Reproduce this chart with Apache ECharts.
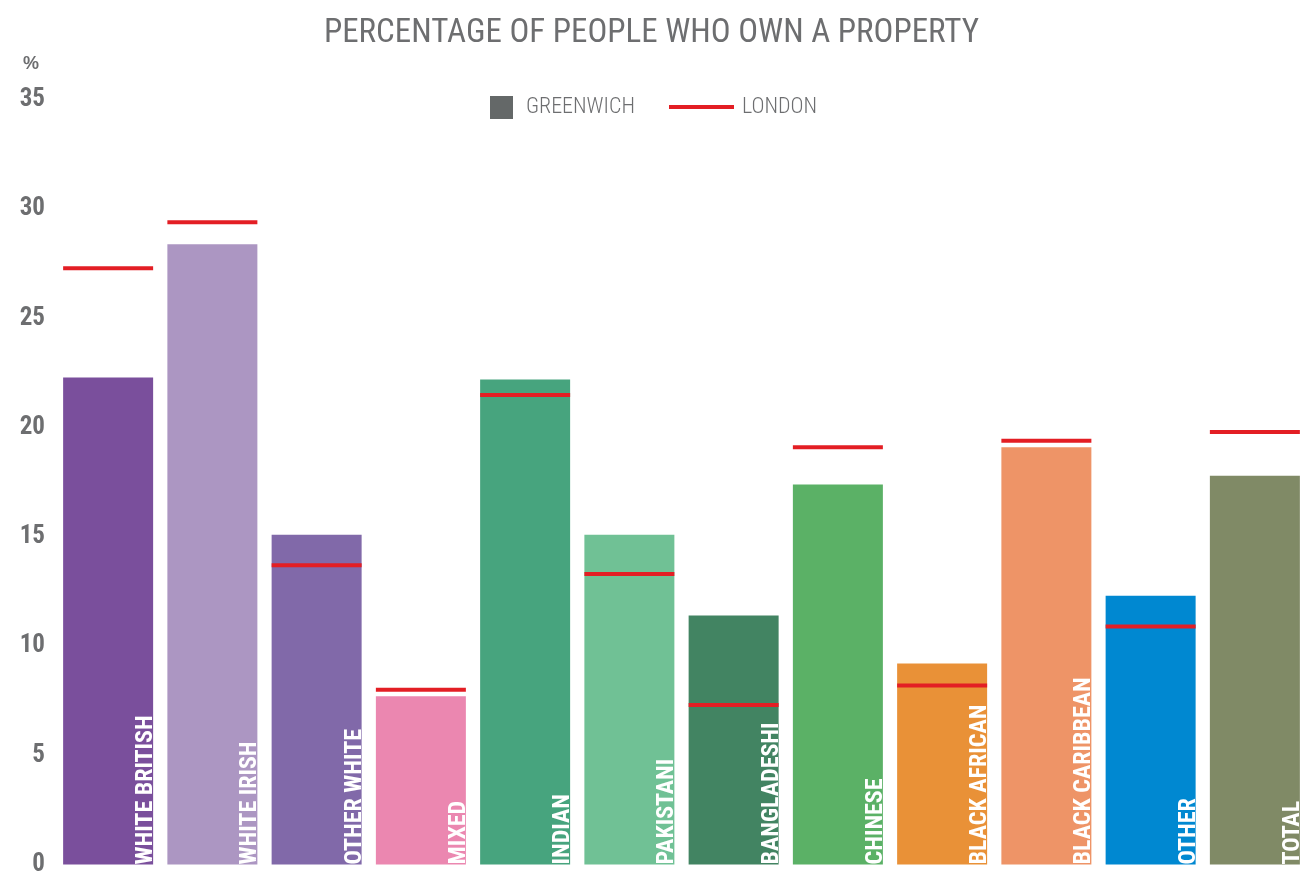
<!DOCTYPE html>
<html>
<head>
<meta charset="utf-8">
<style>
  html, body { margin: 0; padding: 0; background: #fff; }
  #chart { width: 1303px; height: 871px; }
</style>
<script src="https://cdn.jsdelivr.net/npm/echarts@6/dist/echarts.min.js"></script>
</head>
<body>
<div id="chart"></div>
<script>
  // categories and values
  var categories = ['WHITE BRITISH', 'WHITE IRISH', 'OTHER WHITE', 'MIXED', 'INDIAN', 'PAKISTANI',
    'BANGLADESHI', 'CHINESE', 'BLACK AFRICAN', 'BLACK CARIBBEAN', 'OTHER', 'TOTAL'];
  var greenwich = [22.3, 28.4, 15.1, 7.7, 22.2, 15.1, 11.4, 17.4, 9.2, 19.1, 12.3, 17.8];
  var london = [27.3, 29.4, 13.7, 8.0, 21.5, 13.3, 7.3, 19.1, 8.2, 19.4, 10.9, 19.8];
  var barColors = ['#7a4f9c', '#ac96c2', '#8169a9', '#eb87b0', '#47a47e', '#70c195',
    '#428462', '#5bb166', '#e99137', '#ee9467', '#0088d1', '#808a66'];

  var chart = echarts.init(document.getElementById('chart'));
  var condensed = '"Roboto Condensed", Roboto, sans-serif';
  var grey = '#6d6e70';

  var barData = greenwich.map(function (v, i) {
    return { value: v, itemStyle: { color: barColors[i] } };
  });

  var option = {
    animation: false,
    title: {
      text: 'PERCENTAGE OF PEOPLE WHO OWN A PROPERTY',
      left: 'center',
      top: 12,
      textStyle: {
        fontFamily: condensed,
        fontSize: 33,
        fontWeight: 'normal',
        color: grey
      }
    },
    legend: [{
      data: ['GREENWICH'],
      left: 490,
      top: 96,
      padding: 0,
      itemWidth: 23,
      itemHeight: 23,
      icon: 'rect',
      textStyle: {
        fontFamily: condensed,
        fontSize: 22,
        fontWeight: 300,
        color: grey,
        padding: [0, 0, 0, 8]
      }
    }, {
      data: ['LONDON'],
      left: 669,
      top: 96,
      padding: 0,
      itemWidth: 65,
      itemHeight: 4,
      icon: 'rect',
      textStyle: {
        fontFamily: condensed,
        fontSize: 22,
        fontWeight: 300,
        color: grey,
        padding: [0, 0, 0, 3]
      }
    }],
    grid: {
      left: 56,
      right: -4,
      top: 100,
      bottom: 6.5,
      outerBoundsMode: 'none'
    },
    xAxis: {
      type: 'category',
      data: categories,
      axisLine: { show: false },
      axisTick: { show: false },
      axisLabel: { show: false },
      splitLine: { show: false }
    },
    yAxis: {
      type: 'value',
      min: 0,
      max: 35,
      interval: 5,
      name: '%',
      nameLocation: 'end',
      nameGap: 27,
      nameTextStyle: {
        fontFamily: '"Liberation Sans", Arial, sans-serif',
        fontSize: 18,
        fontWeight: 'bold',
        color: grey,
        align: 'right',
        padding: [0, 17, 0, 0]
      },
      axisLine: { show: false },
      axisTick: { show: false },
      splitLine: { show: false },
      axisLabel: {
        margin: 11,
        fontFamily: condensed,
        fontSize: 25,
        fontWeight: 'bold',
        color: grey
      }
    },
    series: [{
      name: 'GREENWICH',
      type: 'bar',
      barWidth: 90,
      itemStyle: { color: '#646868' },
      data: barData,
      label: {
        show: true,
        position: 'insideBottomRight',
        distance: 0,
        rotate: 90,
        align: 'left',
        verticalAlign: 'bottom',
        offset: [0, 5],
        formatter: function (p) { return p.name; },
        fontFamily: condensed,
        fontSize: 24,
        fontWeight: 'bold',
        color: '#ffffff'
      }
    }, {
      name: 'LONDON',
      type: 'scatter',
      symbol: 'rect',
      symbolSize: [90, 4],
      itemStyle: { color: '#e31e24', opacity: 1 },
      z: 5,
      data: london
    }]
  };

  chart.setOption(option);
</script>
</body>
</html>
